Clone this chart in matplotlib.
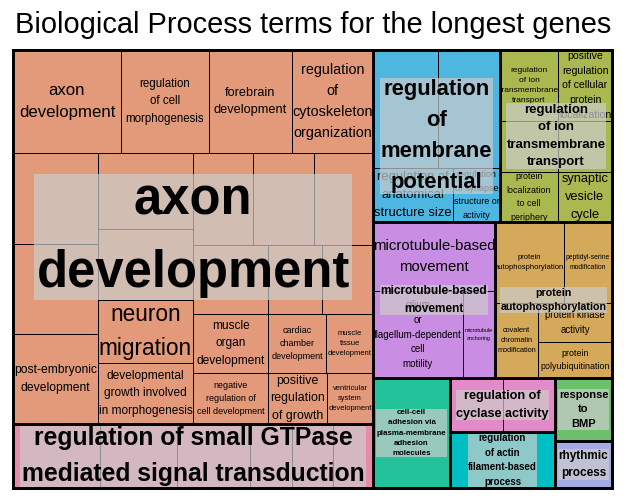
import matplotlib
matplotlib.use("Agg")
import matplotlib.pyplot as plt
from matplotlib.patches import Rectangle

plt.rcParams['font.family'] = ['Liberation Sans', 'DejaVu Sans']

title = "Biological Process terms for the longest genes"

# parent terms (big labels); sizes come from the terms below
parent_terms = [
    "axon\ndevelopment",
    "regulation of small GTPase\nmediated signal transduction",
    "regulation\nof\nmembrane\npotential",
    "regulation\nof ion\ntransmembrane\ntransport",
    "microtubule-based\nmovement",
    "protein\nautophosphorylation",
    "cell-cell\nadhesion via\nplasma-membrane\nadhesion\nmolecules",
    "regulation of\ncyclase activity",
    "regulation\nof actin\nfilament-based\nprocess",
    "response\nto\nBMP",
    "rhythmic\nprocess",
]

# terms of each parent ('' = label hidden behind the parent label) and their sizes
axon_terms = ["axon\ndevelopment", "regulation\nof cell\nmorphogenesis", "forebrain\ndevelopment",
              "regulation\nof\ncytoskeleton\norganization", "", "", "post-embryonic\ndevelopment",
              "", "", "neuron\nmigration", "developmental\ngrowth involved\nin morphogenesis",
              "", "", "", "", "", "",
              "muscle\norgan\ndevelopment", "cardiac\nchamber\ndevelopment", "muscle\ntissue\ndevelopment",
              "negative\nregulation of\ncell development", "positive\nregulation\nof growth",
              "ventricular\nsystem\ndevelopment"]
axon_sizes = [111.2, 90.6, 85.5, 83.4, 77.4, 76.5, 76.5, 72.2, 67.5, 59.9, 58.0,
              55.2, 56.1, 54.3, 51.8, 37.3, 35.2, 44.3, 34.2, 27.7, 38.3, 30.1, 23.5]

gtpase_terms = ["", "", "", "", "", ""]
gtpase_sizes = [55.7, 49.3, 46.7, 26.9, 26.2, 25.6]

membrane_terms = ["", "", "regulation of\nanatomical\nstructure size",
                  "regulation\nof synapse\nstructure or\nactivity"]
membrane_sizes = [76.7, 73.2, 43.2, 25.4]

ion_terms = ["regulation\nof ion\ntransmembrane\ntransport",
             "positive\nregulation\nof cellular\nprotein\nlocalization", "", "",
             "protein\nlocalization\nto cell\nperiphery", "synaptic\nvesicle\ncycle"]
ion_sizes = [41.2, 38.3, 29.6, 27.5, 29.0, 27.0]

mt_terms = ["microtubule-based\nmovement", "cilium\nor\nflagellum-dependent\ncell\nmotility",
            "microtubule\nanchoring"]
mt_sizes = [84.2, 78.3, 27.8]

autophos_terms = ["protein\nautophosphorylation", "peptidyl-serine\nmodification",
                  "covalent\nchromatin\nmodification", "protein kinase\nactivity",
                  "protein\npolyubiquitination"]
autophos_sizes = [55.9, 38.9, 32.3, 28.9, 26.6]

adhesion_terms = [""]
adhesion_sizes = [84.7]
cyclase_terms = ["", ""]
cyclase_sizes = [28.6, 28.1]
actin_terms = [""]
actin_sizes = [58.8]
bmp_terms = [""]
bmp_sizes = [35.9]
rhythm_terms = [""]
rhythm_sizes = [26.8]

group_terms = [axon_terms, gtpase_terms, membrane_terms, ion_terms, mt_terms, autophos_terms,
               adhesion_terms, cyclase_terms, actin_terms, bmp_terms, rhythm_terms]
group_sizes = [axon_sizes, gtpase_sizes, membrane_sizes, ion_sizes, mt_sizes, autophos_sizes,
               adhesion_sizes, cyclase_sizes, actin_sizes, bmp_sizes, rhythm_sizes]

# ---- styling / layout ----
colors = ["#E39A7B", "#E88BA9", "#4DB7E2", "#A9B84F", "#C98DE3", "#D4A95A",
          "#22C39A", "#E58AC8", "#00BFC4", "#6CC06C", "#A4AAE6"]
group_fs = [36.5, 17.8, 15.8, 9.5, 8.6, 7.7, 5.7, 9.1, 7.0, 8.0, 8.5]
term_fs = [
    [12.1, 8.3, 9.2, 10.4, 0, 0, 8.7, 0, 0, 16.3, 8.6, 0, 0, 0, 0, 0, 0,
     8.6, 6.5, 5.5, 6.5, 8.9, 5.4],
    [0] * 6,
    [0, 0, 9.4, 6.5],
    [6.0, 7.6, 0, 0, 6.4, 9.2],
    [10.7, 7.0, 3.9],
    [5.5, 4.9, 5.3, 6.9, 6.4],
    [0], [0, 0], [0], [0], [0],
]
LS = 1.62

# split trees: ('h', kids) side by side, ('v', kids) stacked; ints index into sizes
top_layout = ('h', [('v', [0, 1]),
                    ('v', [('h', [2, 3]), ('h', [4, 5]),
                           ('h', [6, ('v', [7, 8]), ('v', [9, 10])])])])
group_layouts = [
    ('v', [('h', [0, 1, 2, 3]),
           ('h', [('v', [4, 5, 6]), ('v', [7, 8, 9, 10]),
                  ('v', [('h', [11, 12, 13]), ('h', [14, 15, 16]),
                         ('h', [17, 18, 19]), ('h', [20, 21, 22])])])]),
    ('h', [0, 1, 2, 3, 4, 5]),
    ('v', [('h', [0, 1]), ('h', [2, 3])]),
    ('v', [('h', [0, 1]), ('h', [2, 3]), ('h', [4, 5])]),
    ('v', [0, ('h', [1, 2])]),
    ('v', [('h', [0, 1]), ('h', [2, ('v', [3, 4])])]),
    0, ('h', [0, 1]), 0, 0, 0,
]


def node_size(node, sizes):
    if isinstance(node, int):
        return sizes[node]
    return sum(node_size(k, sizes) for k in node[1])


def place(node, box, sizes, out):
    if isinstance(node, int):
        out[node] = box
        return
    d, kids = node
    x0, y0, x1, y1 = box
    tot = node_size(node, sizes)
    pos = x0 if d == 'h' else y0
    for k in kids:
        f = node_size(k, sizes) / tot
        if d == 'h':
            step = (x1 - x0) * f
            place(k, (pos, y0, pos + step, y1), sizes, out)
        else:
            step = (y1 - y0) * f
            place(k, (x0, pos, x1, pos + step), sizes, out)
        pos += step


fig = plt.figure(figsize=(6.26, 5.0), dpi=100)
ax = fig.add_axes([0, 0, 1, 1])
ax.set_xlim(0, 626)
ax.set_ylim(500, 0)
ax.axis('off')

area = (13, 50, 612, 488)
totals = [sum(s) for s in group_sizes]
gboxes = {}
place(top_layout, area, totals, gboxes)

for gi in range(len(parent_terms)):
    gb = gboxes[gi]
    tboxes = {}
    place(group_layouts[gi], gb, group_sizes[gi], tboxes)
    for ti, (x0, y0, x1, y1) in tboxes.items():
        ax.add_patch(Rectangle((x0, y0), x1 - x0, y1 - y0, fc=colors[gi], ec='black',
                               lw=0.7, zorder=1))
        lab = group_terms[gi][ti]
        if lab:
            ax.text((x0 + x1) / 2, (y0 + y1) / 2, lab, ha='center', va='center',
                    fontsize=term_fs[gi][ti], linespacing=LS, color='black', zorder=2)
    x0, y0, x1, y1 = gb
    ax.text((x0 + x1) / 2, (y0 + y1) / 2, parent_terms[gi], ha='center', va='center',
            fontsize=group_fs[gi], fontweight='bold', linespacing=LS, color='black',
            zorder=4, bbox=dict(boxstyle='square,pad=0.05', fc='#CCCCCC', ec='none', alpha=0.7))
    ax.add_patch(Rectangle((x0, y0), x1 - x0, y1 - y0, fill=False, ec='black', lw=1.9, zorder=5))

ax.add_patch(Rectangle((area[0], area[1]), area[2] - area[0], area[3] - area[1],
                       fill=False, ec='black', lw=2.0, zorder=6))

ax.text(313, 33, title, ha='center', va='baseline', fontsize=20.9, color='black')

fig.savefig("out.png", dpi=100)
